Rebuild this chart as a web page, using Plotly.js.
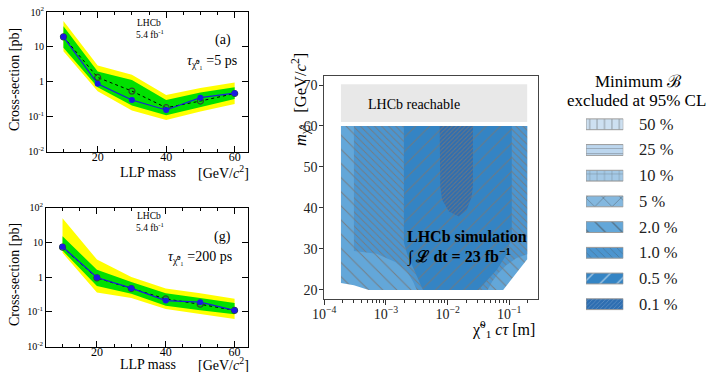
<!DOCTYPE html>
<html><head><meta charset="utf-8">
<script src="https://cdn.plot.ly/plotly-3.0.1.min.js"></script>
<style>html,body{margin:0;padding:0;background:#fff}#c{width:713px;height:372px}</style>
</head><body><div id="c"></div>
<script>
// ---------- data: left panels ----------
const massPoints = [10, 20, 30, 40, 50, 60];
// panel (a), tau = 5 ps
const obsA   = [19.4, 0.87, 0.30, 0.155, 0.35, 0.47];
const expA   = [19.4, 1.33, 0.54, 0.18, 0.28, 0.46];
const g1UpA  = [39, 1.98, 1.12, 0.30, 0.49, 0.70];
const g1DnA  = [9.4, 0.70, 0.21, 0.11, 0.19, 0.32];
const y2UpA  = [55, 2.9, 1.6, 0.42, 0.66, 0.95];
const y2DnA  = [7.5, 0.53, 0.15, 0.08, 0.14, 0.23];
// panel (g), tau = 200 ps
const obsG   = [7.5, 0.97, 0.48, 0.21, 0.19, 0.11];
const expG   = [7.3, 0.95, 0.47, 0.235, 0.165, 0.11];
const g1UpG  = [15, 1.63, 0.72, 0.34, 0.25, 0.18];
const g1DnG  = [5.8, 0.55, 0.33, 0.15, 0.11, 0.085];
const y2UpG  = [50, 3.2, 1.0, 0.47, 0.34, 0.236];
const y2DnG  = [5.0, 0.36, 0.25, 0.12, 0.085, 0.062];
const yTickVals = [0.01, 0.1, 1, 10, 100];
const yTickText = ['10<sup>-2</sup>', '10<sup>-1</sup>', '1', '10', '10<sup>2</sup>'];
const xTickVals = [20, 40, 60];

// ---------- data: right panel (region boundaries, log10(c tau [m]) , mass [GeV]) ----------
const reachLogCt = [-3.73, -0.71, -0.71, -3.73];
const reachMass  = [61.0, 61.0, 70.2, 70.2];
const r20LogCt = [-3.73, -0.71, -0.71, -1.10, -3.28, -3.40, -3.52, -3.73];
const r20Mass  = [60, 60, 27.5, 20, 20, 20.6, 21.1, 21.7];
const r10LogCt = [-3.52, -0.71, -0.71, -0.88, -1.05, -1.18, -1.28, -1.35, -2.50, -2.56, -2.66, -2.85, -3.15, -3.52];
const r10Mass  = [60, 60, 28.7, 27.8, 26.0, 24.0, 22.0, 20, 20, 22.0, 24.5, 26.8, 28.8, 29.5];
const r05LogCt = [-2.71, -0.96, -0.96, -1.05, -1.20, -1.35, -1.50, -2.40, -2.47, -2.56, -2.65, -2.71];
const r05Mass  = [60, 60, 33.0, 28.5, 25.0, 22.5, 20, 20, 22.5, 25.5, 28.5, 31.5];
const r01LogCt = [-2.13, -1.59, -1.59, -1.61, -1.69, -1.82, -1.98, -2.09, -2.12];
const r01Mass  = [60, 60, 45.2, 42.8, 39.5, 37.9, 39.1, 42.0, 45.2];
const rightXTicks = [1e-4, 1e-3, 1e-2, 1e-1];
const rightXText  = ['10<sup>−4</sup>', '10<sup>−3</sup>', '10<sup>−2</sup>', '10<sup>−1</sup>'];
const rightYTicks = [20, 30, 40, 50, 60, 70];

// ---------- data: legend of right panel ----------
const legendLabels = ['50 %', '25 %', '10 %', '5 %', '2.0 %', '1.0 %', '0.5 %', '0.1 %'];
const legendColors = ['#cde0f1', '#bcd6ee', '#a4c9e6', '#84b8df', '#63a7d9', '#4c95cf', '#3484c4', '#2e6eb1'];
const legendShapes = ['|', '-', '+', 'x', '\\', '\\', '/', '/'];
const legendSizes  = [7.4, 5, 7.4, 12.3, 12, 5, 12, 3];

// ---------- helpers ----------
const W = 713, H = 372;
const PX = v => v / W, PY = v => 1 - v / H;
const serif = 'Liberation Serif, Times New Roman, serif';
const pow10 = a => a.map(v => Math.pow(10, v));
const GREEN = '#00e000', YELLOW = '#ffff00', BLUE = '#1a1ae0', HATCH = 'rgba(120,120,120,0.85)';

function panelTraces(ax, ay, obs, exp, g1u, g1d, y2u, y2d) {
  const mk = (up, dn, color) => ({ x: massPoints.concat(massPoints.slice().reverse()),
    y: up.concat(dn.slice().reverse()), xaxis: ax, yaxis: ay, type: 'scatter', mode: 'lines',
    fill: 'toself', fillcolor: color, line: { width: 0 }, hoverinfo: 'skip', showlegend: false });
  return [
    mk(y2u, y2d, YELLOW),
    mk(g1u, g1d, GREEN),
    { x: massPoints, y: exp, xaxis: ax, yaxis: ay, type: 'scatter', mode: 'lines+markers',
      line: { color: '#000', width: 1, dash: 'dot' },
      marker: { symbol: 'circle-open', size: 6, color: '#2c4a2c', line: { width: 1.2, color: '#2c4a2c' } }, showlegend: false },
    { x: massPoints, y: obs, xaxis: ax, yaxis: ay, type: 'scatter', mode: 'lines+markers',
      line: { color: BLUE, width: 1.2 }, marker: { symbol: 'circle', size: 6, color: BLUE }, showlegend: false }
  ];
}
function region(lx, my, color, shape, size, sol) {
  return { x: pow10(lx), y: my, xaxis: 'x3', yaxis: 'y3', type: 'scatter', mode: 'lines',
    fill: 'toself', fillcolor: color, line: { width: 0 }, hoverinfo: 'skip', showlegend: false,
    fillpattern: shape ? { shape: shape, size: size, solidity: sol, fgcolor: HATCH, bgcolor: color } : undefined };
}

const traces = [
  ...panelTraces('x', 'y', obsA, expA, g1UpA, g1DnA, y2UpA, y2DnA),
  ...panelTraces('x2', 'y2', obsG, expG, g1UpG, g1DnG, y2UpG, y2DnG),
  region(reachLogCt, reachMass, '#e8e8e8', null),
  region(r20LogCt, r20Mass, '#63a7d9', '\\', 10, 0.1),
  region(r10LogCt, r10Mass, '#4c95cf', '\\', 5, 0.2),
  region(r05LogCt, r05Mass, '#3484c4', '/', 10, 0.1),
  region(r01LogCt, r01Mass, '#2e6eb1', '/', 3, 0.34),
  { type: 'bar', orientation: 'h', xaxis: 'x4', yaxis: 'y4',
    y: legendLabels.map((_, i) => i), x: legendLabels.map(() => 1), base: 0, width: 0.42,
    marker: { color: legendColors, line: { color: '#9a9a9a', width: 1 },
      pattern: { shape: legendShapes, size: legendSizes, solidity: 0.12, fgcolor: HATCH, bgcolor: legendColors, fillmode: 'overlay' } },
    hoverinfo: 'skip', showlegend: false }
];

const leftX = (dom) => ({ domain: dom, range: [5.2, 63.9], tickvals: xTickVals, ticks: 'inside', ticklen: 6,
  tickcolor: '#000', showline: true, linecolor: '#000', linewidth: 1, mirror: 'ticks', showgrid: false, zeroline: false,
  ticklabelstandoff: -6,
  minor: { dtick: 5, tick0: 0, ticks: 'inside', ticklen: 3, tickcolor: '#000', showgrid: false },
  tickfont: { family: serif, size: 12, color: '#000' } });
const leftY = (dom) => ({ domain: dom, type: 'log', range: [-2, 2], tickvals: yTickVals, ticktext: yTickText,
  ticks: 'inside', ticklen: 6, tickcolor: '#000', showline: true, linecolor: '#000', linewidth: 1, mirror: 'ticks',
  showgrid: false, zeroline: false, tickfont: { family: serif, size: 10, color: '#000' } });

const ann = [];
function txt(text, x, y, size, opts) {
  ann.push(Object.assign({ text: text, xref: 'paper', yref: 'paper', x: PX(x), y: PY(y), showarrow: false,
    font: { family: serif, size: size, color: '#000' }, xanchor: 'center', yanchor: 'middle' }, opts || {}));
}
// left panels
[[0, '(a)', '=5 ps', 185], [196, '(g)', '=200 ps', 166]].forEach(([dy, lab, tau, tx]) => {
  txt('LHCb', 149, 23 + dy * 0.987, 9.5);
  txt('5.4 fb<sup>-1</sup>', 150, 34 + dy * 0.987, 9.5);
  txt(lab, 233, (dy ? 237 : 40), 14, { xanchor: 'right' });
  txt('<i>τ</i><sub>χ̃⁰₁</sub> ' + tau, tx, (dy ? 257 : 62), 14, { xanchor: 'left' });
  txt('Cross-section [pb]', 14, (dy ? 275 : 80), 14, { textangle: -90 });
  txt('LLP mass', 148, (dy ? 364 : 172), 14);
  txt('[GeV/<i>c</i><sup>2</sup>]', 251, (dy ? 363.5 : 172), 14, { xanchor: 'right' });
});
// right panel
txt('LHCb reachable', 414, 105, 14);
txt('<b>LHCb simulation</b>', 405, 236, 16, { xanchor: 'left' });
txt('<b>∫ ℒ dt = 23 fb<sup>−1</sup></b>', 405, 256, 16, { xanchor: 'left' });
txt('<i>m</i><sub>χ̃⁰₁</sub>  [GeV/<i>c</i><sup>2</sup>]', 300, 100, 16.5, { textangle: -90 });
txt('χ̃<sup>0</sup><sub>1</sub> <i>cτ</i> [m]', 537, 329, 16, { xanchor: 'right' });
// legend
txt('Minimum ℬ', 638, 81, 17);
txt('excluded at 95% CL', 636, 100, 17);
legendLabels.forEach((t, i) => ann.push({ text: t, xref: 'paper', yref: 'y4', x: PX(637), y: i, xanchor: 'left',
  yanchor: 'middle', showarrow: false, font: { family: serif, size: 16.5, color: '#222' } }));

const layout = {
  width: W, height: H, margin: { l: 0, r: 0, t: 0, b: 0 }, paper_bgcolor: '#fff', plot_bgcolor: 'rgba(0,0,0,0)',
  showlegend: false, font: { family: serif },
  xaxis: Object.assign(leftX([PX(47), PX(248)]), { anchor: 'y' }),
  yaxis: Object.assign(leftY([PY(151.5), PY(12)]), { anchor: 'x' }),
  xaxis2: Object.assign(leftX([PX(46), PX(248)]), { anchor: 'y2' }),
  yaxis2: Object.assign(leftY([PY(346.5), PY(207.7)]), { anchor: 'x2' }),
  xaxis3: { domain: [PX(324.3), PX(538.3)], anchor: 'y3', type: 'log', range: [-4.0, -0.53],
    tickvals: rightXTicks, ticktext: rightXText, ticks: 'outside', ticklen: 5, tickcolor: '#333',
    ticklabelstandoff: -3,
    minor: { dtick: 'D1', ticks: 'outside', ticklen: 3, tickcolor: '#333', showgrid: false },
    showline: true, linecolor: '#444', linewidth: 1, mirror: true, showgrid: false, zeroline: false,
    tickfont: { family: serif, size: 14, color: '#222' } },
  yaxis3: { domain: [PY(299.3), PY(76)], anchor: 'x3', range: [17.7, 72.2], tickvals: rightYTicks,
    ticks: 'outside', ticklen: 4, tickcolor: '#333', showline: true, linecolor: '#444', linewidth: 1, mirror: true,
    ticklabelstandoff: -1,
    showgrid: false, zeroline: false, tickfont: { family: serif, size: 14, color: '#222' } },
  xaxis4: { domain: [PX(586), PX(623.3)], anchor: 'y4', range: [0, 1], visible: false, fixedrange: true },
  yaxis4: { domain: [PY(317), PY(111)], anchor: 'x4', range: [7.498, -0.517], visible: false, fixedrange: true },
  annotations: ann
};
Plotly.newPlot('c', traces, layout, { staticPlot: true, displayModeBar: false });
</script></body></html>
